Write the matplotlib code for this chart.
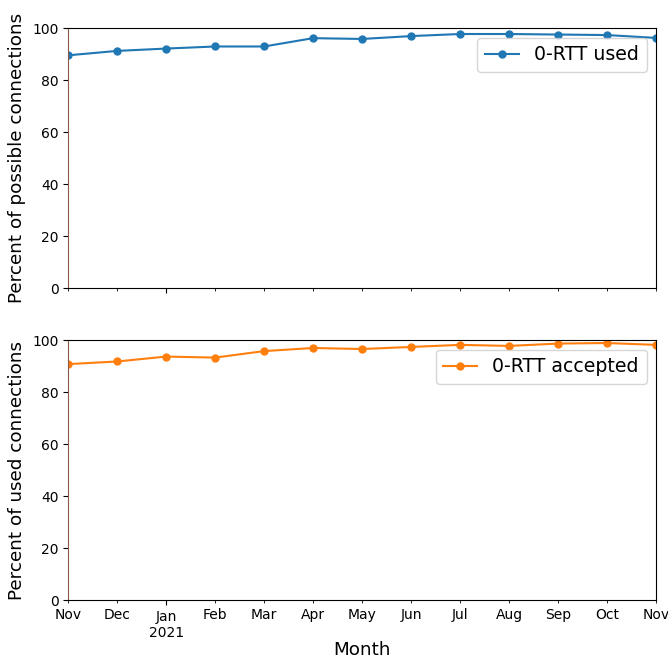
import matplotlib
matplotlib.use("Agg")
import matplotlib.pyplot as plt
import pandas as pd

months = pd.date_range("2020-11-01", periods=13, freq="MS")
used_pct = [89.6, 91.3, 92.2, 93.0, 93.0, 96.2, 95.9, 97.0, 97.8, 97.8, 97.6, 97.4, 96.3]
accepted_pct = [90.8, 91.8, 93.7, 93.3, 95.8, 97.0, 96.6, 97.4, 98.2, 97.8, 98.7, 98.9, 98.2]
yticks = [0, 20, 40, 60, 80, 100]

fig, (ax1, ax2) = plt.subplots(2, 1, figsize=(6.68, 6.58), dpi=100, sharex=True)
fig.subplots_adjust(left=0.102, right=0.982, top=0.957, bottom=0.088, hspace=0.2)

s1 = pd.Series(used_pct, index=months)
s2 = pd.Series(accepted_pct, index=months)
s1.plot(ax=ax1, marker="o", color="C0", label="0-RTT used", markersize=5)
s2.plot(ax=ax2, marker="o", color="C1", label="0-RTT accepted", markersize=5)

for ax in (ax1, ax2):
    ax.set_ylim(0, 100)
    ax.set_yticks(yticks)
    ax.tick_params(labelsize=10)
    ax.tick_params(axis="x", which="both", labelsize=10)
    ax.legend(loc="upper right", fontsize=13.6, handlelength=1.8)
    ax.spines["left"].set_color("#8c564b")

ax1.set_ylabel("Percent of possible connections", fontsize=13.2)
ax2.set_ylabel("Percent of used connections", fontsize=13.2)
ax1.set_xlabel("")
ax2.set_xlabel("Month", fontsize=13.2, labelpad=1)

fig.savefig("out.png", dpi=100)
